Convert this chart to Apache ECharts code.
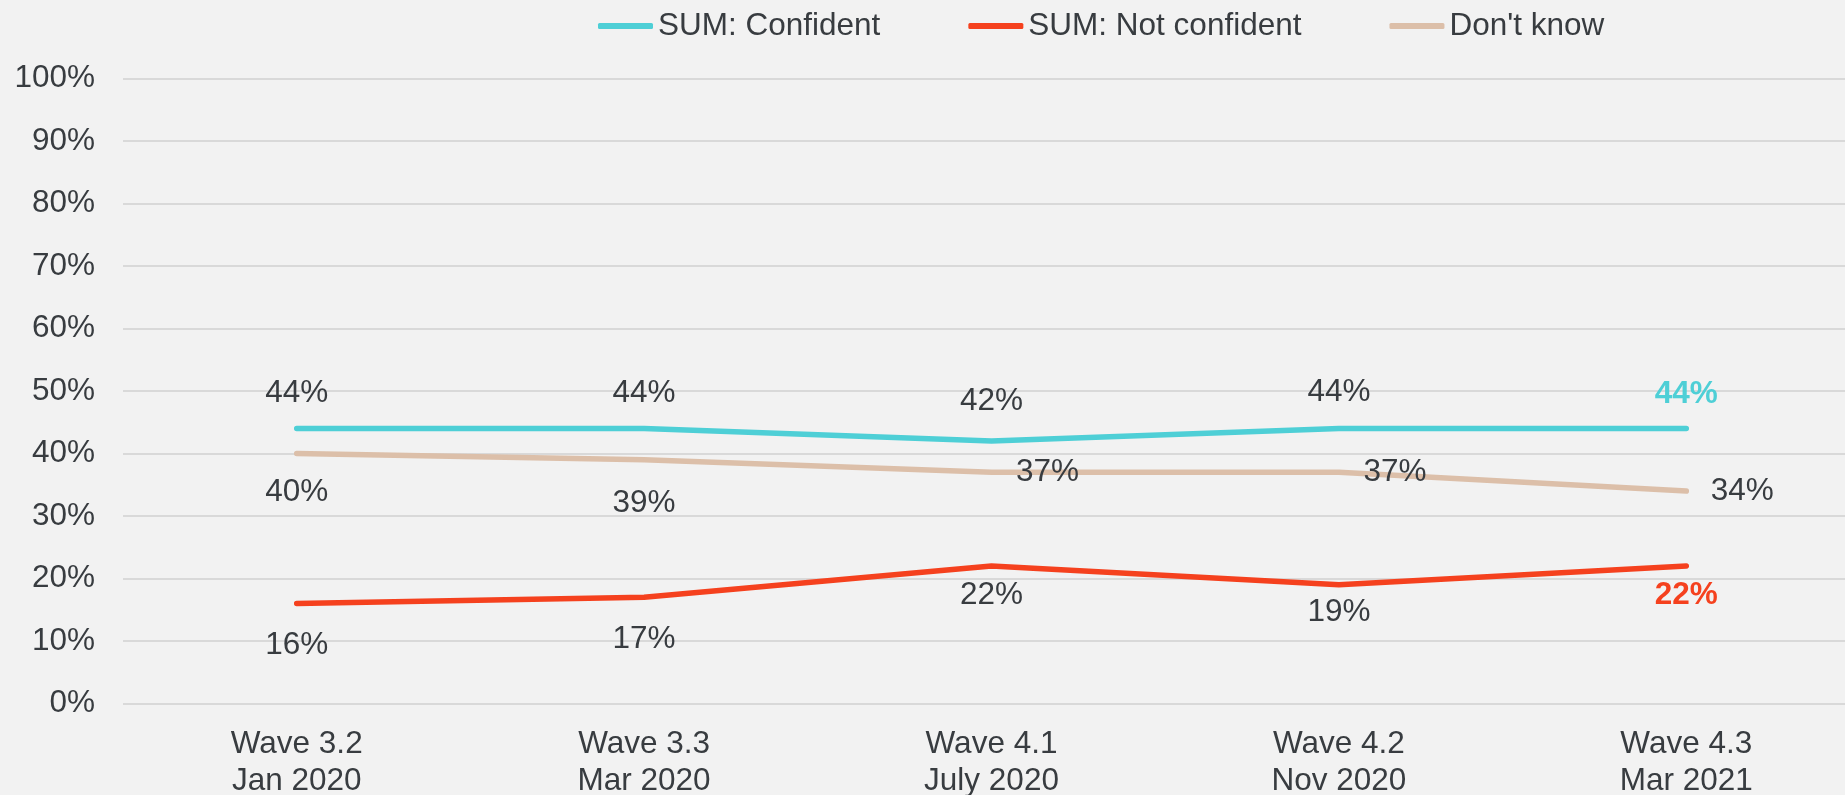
<!DOCTYPE html>
<html>
<head>
<meta charset="utf-8">
<script src="https://cdn.jsdelivr.net/npm/echarts@6/dist/echarts.min.js"></script>
<style>
  html, body { margin: 0; padding: 0; background: #f2f2f2; }
  #chart { width: 1845px; height: 795px; }
</style>
</head>
<body>
<div id="chart"></div>
<script>
"use strict"

var categories = ["Wave 3.2\nJan 2020", "Wave 3.3\nMar 2020", "Wave 4.1\nJuly 2020", "Wave 4.2\nNov 2020", "Wave 4.3\nMar 2021"];
var seriesNames = ["SUM: Confident", "SUM: Not confident", "Don't know"];
var confident = [44, 44, 42, 44, 44];
var notConfident = [16, 17, 22, 19, 22];
var dontKnow = [40, 39, 37, 37, 34];
var yTicks = [0, 10, 20, 30, 40, 50, 60, 70, 80, 90, 100];

var textColor = "#383c40";
var fontSize = 31.5;
var colorList = ["#4ecfd6", "#f5411e", "#dcbfa9"];

// label placement per point (position, distance) - hand placed like the original
var confidentPos = [["top", 19], ["top", 19], ["top", 23], ["top", 20], ["top", 18]];
var notConfidentPos = [["bottom", 25], ["bottom", 26], ["bottom", 13], ["bottom", 11], ["bottom", 13]];
var dontKnowPos = [["bottom", 22], ["bottom", 27], ["right", 24], ["right", 24], ["right", 24]];

function buildData(values, pos, color, boldLast){
    var list = [];
    for(let i = 0; i < values.length; i++){
        let item = {
            value : values[i],
            label : {
                position : pos[i][0],
                distance : pos[i][1]
            }
        };
        if(boldLast && i === values.length - 1){
            item.label.color = color;
            item.label.fontWeight = "bold";
        }
        list.push(item);
    }
    return list;
}

function lineSeries(name, values, pos, color, boldLast){
    return {
        name : name,
        type : "line",
        symbol : "circle",
        symbolSize : 1,
        itemStyle : { color : color },
        lineStyle : {
            color : color,
            width : 5.5,
            cap : "round",
            join : "round"
        },
        label : {
            show : true,
            formatter : "{c}%",
            fontSize : fontSize,
            color : textColor,
            fontFamily : "Liberation Sans"
        },
        emphasis : { disabled : true },
        data : buildData(values, pos, color, boldLast)
    };
}

var chart = echarts.init(document.getElementById("chart"));
var option = {
    backgroundColor : "#f2f2f2",
    animation : false,
    textStyle : { fontFamily : "Liberation Sans" },
    legend : {
        left : 593,
        top : 5,
        itemGap : 88,
        itemWidth : 55,
        itemHeight : 6,
        icon : "roundRect",
        textStyle : {
            fontSize : fontSize,
            color : textColor,
            fontFamily : "Liberation Sans"
        },
        data : seriesNames
    },
    grid : {
        left : 123,
        right : -15,
        top : 78.5,
        bottom : 91.5,
        containLabel : false,
        outerBoundsMode : "none"
    },
    xAxis : {
        type : "category",
        boundaryGap : true,
        data : categories,
        axisLine : { show : false },
        axisTick : { show : false },
        axisLabel : {
            fontSize : fontSize,
            lineHeight : 37,
            margin : 22,
            color : textColor,
            fontFamily : "Liberation Sans"
        }
    },
    yAxis : {
        type : "value",
        min : yTicks[0],
        max : yTicks[yTicks.length - 1],
        interval : 10,
        axisLine : { show : false },
        axisTick : { show : false },
        splitLine : {
            lineStyle : { color : "#d9d9d9", width : 2 }
        },
        axisLabel : {
            formatter : "{value}%",
            fontSize : fontSize,
            margin : 28,
            color : textColor,
            fontFamily : "Liberation Sans"
        }
    },
    series : [
        lineSeries(seriesNames[0], confident, confidentPos, colorList[0], true),
        lineSeries(seriesNames[1], notConfident, notConfidentPos, colorList[1], true),
        lineSeries(seriesNames[2], dontKnow, dontKnowPos, colorList[2], false)
    ]
};
chart.setOption(option);
</script>
</body>
</html>
